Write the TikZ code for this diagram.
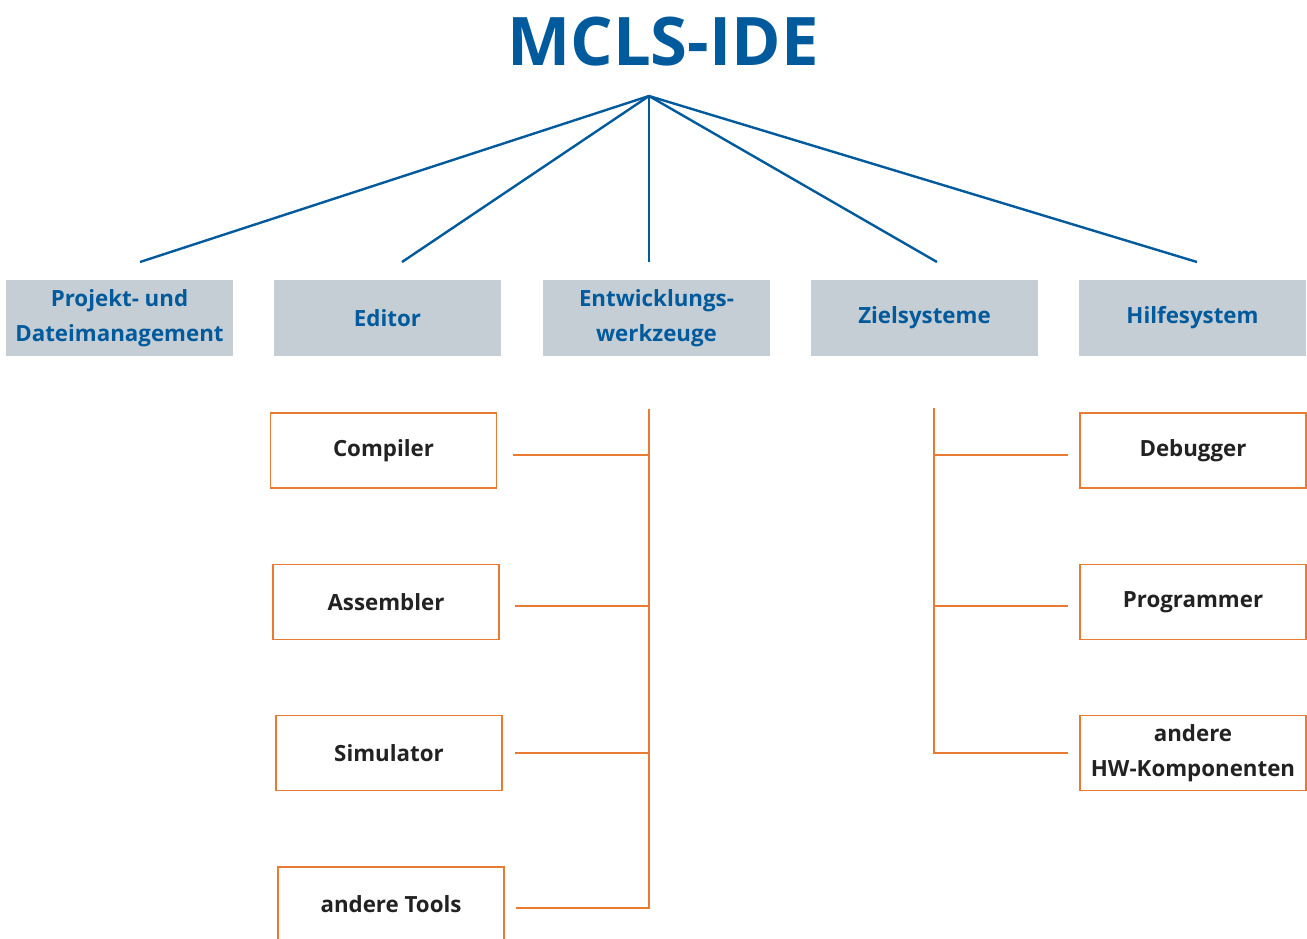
\documentclass[tikz,border=0pt]{standalone}
\usepackage{fontspec}
\setmainfont{Open Sans}
\begin{document}
\begin{tikzpicture}[x=1pt,y=-1pt,
  every node/.style={font=\bfseries},
  catbox/.style={fill=grayfill, draw=none, minimum width=227pt, minimum height=76pt, text=mblue, align=center, font=\fontsize{22.3}{35}\selectfont\bfseries, inner sep=0pt},
  toolbox/.style={draw=morange, line width=1.3pt, fill=white, minimum width=226pt, minimum height=75pt, text=tblack, align=center, font=\fontsize{22.3}{35}\selectfont\bfseries, inner sep=0pt},
  bline/.style={draw=mblue, line width=2.4pt},
  oline/.style={draw=morange, line width=2.8pt}
]
\definecolor{mblue}{HTML}{005A9C}
\definecolor{grayfill}{HTML}{C5CED4}
\definecolor{morange}{HTML}{E87A32}
\definecolor{tblack}{HTML}{222222}
\useasboundingbox (0,0) rectangle (1307,938);
\clip (0,0) rectangle (1307,938);

\node[text=mblue, font=\fontsize{67}{75}\selectfont\bfseries, inner sep=0pt] (title) at (663,42) {MCLS-IDE};

\coordinate (apex) at (649,96);
\coordinate (e1) at (140,262);
\coordinate (e2) at (402,262);
\coordinate (e3) at (649,262);
\coordinate (e4) at (937,262);
\coordinate (e5) at (1197,262);
\foreach \e in {e1,e2,e3,e4,e5} \draw[bline] (apex) -- (\e);

\node[catbox] (c1) at (119.5,318) {Projekt- und\\Dateimanagement};
\node[catbox] (c2) at (387.5,318) {Editor};
\node[catbox] (c3) at (656.5,318) {Entwicklungs-\\werkzeuge};
\node[catbox] (c4) at (924.5,318) {Zielsysteme};
\node[catbox] (c5) at (1192.5,318) {Hilfesystem};

\node[toolbox] (compiler) at (383.5,450.5) {Compiler};
\node[toolbox] (assembler) at (386,602) {Assembler};
\node[toolbox] (simulator) at (389,753) {Simulator};
\node[toolbox, minimum height=74pt] (tools) at (391,904) {andere Tools};

\node[toolbox] (debugger) at (1193,450.5) {Debugger};
\node[toolbox] (programmer) at (1193,602) {Programmer};
\node[toolbox] (hw) at (1193,753) {andere\\HW-Komponenten};

% left orange tree
\coordinate (ltop) at (649,409);
\coordinate (l1) at (649,455);
\coordinate (l2) at (649,606);
\coordinate (l3) at (649,753);
\coordinate (l4) at (649,908);
\coordinate (la) at (513,455);
\coordinate (lb) at (515,606);
\coordinate (lc) at (515,753);
\coordinate (ld) at (516,908);
\draw[oline] (ltop) -- (l4) -- (ld);
\draw[oline] (la) -- (l1);
\draw[oline] (lb) -- (l2);
\draw[oline] (lc) -- (l3);

% right orange tree
\coordinate (rtop) at (934,408);
\coordinate (r1) at (934,455);
\coordinate (r2) at (934,606);
\coordinate (r3) at (934,753);
\coordinate (ra) at (1068,455);
\coordinate (rb) at (1068,606);
\coordinate (rc) at (1068,753);
\draw[oline] (rtop) -- (r3) -- (rc);
\draw[oline] (r1) -- (ra);
\draw[oline] (r2) -- (rb);
\end{tikzpicture}
\end{document}
